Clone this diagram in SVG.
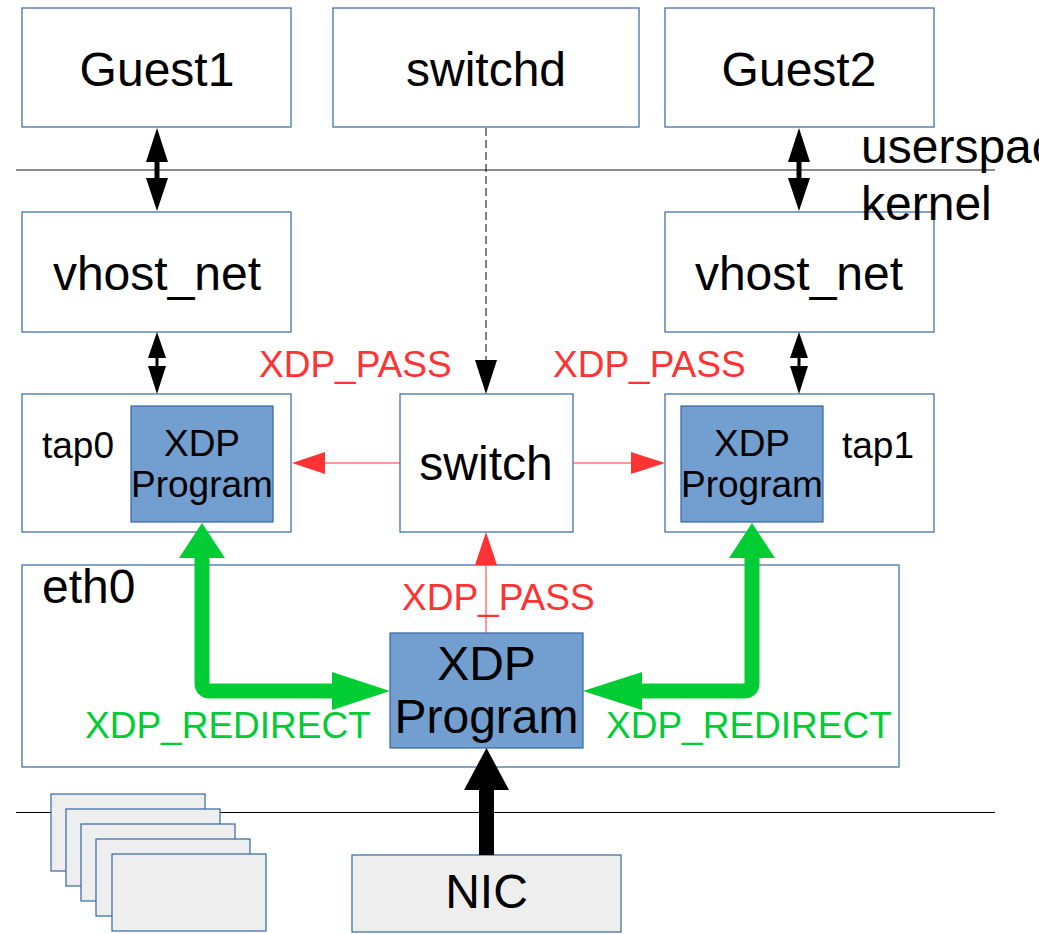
<svg xmlns="http://www.w3.org/2000/svg" width="1039" height="934" viewBox="0 0 1039 934">
<style>
.box{fill:#ffffff;stroke:#3465a4;stroke-width:1.2}
.prog{fill:#729fcf;stroke:#3465a4;stroke-width:1.2}
.card{fill:#eeeeee;stroke:#3465a4;stroke-width:1.2}
.t{font-family:"Liberation Sans",Arial,sans-serif;fill:#000}
.big{font-size:48px}
.mid{font-size:37px}
.red{font-family:"Liberation Sans",Arial,sans-serif;font-size:37px;fill:#ff3333}
.grn{font-family:"Liberation Sans",Arial,sans-serif;font-size:37px;fill:#00cc33}
</style>
<rect width="1039" height="934" fill="#ffffff"/>
<g id="layers">
<line x1="16" y1="170" x2="995" y2="170" stroke="#666666" stroke-width="1.5"/>
<line x1="16" y1="812.5" x2="995" y2="812.5" stroke="#000000" stroke-width="1"/>
</g>
<g id="guest1"><rect class="box" x="22" y="8" width="269" height="119"/><text class="t big" x="157" y="86" text-anchor="middle">Guest1</text></g>
<g id="switchd"><rect class="box" x="333" y="8" width="306" height="119"/><text class="t big" x="486" y="86" text-anchor="middle">switchd</text></g>
<g id="guest2"><rect class="box" x="665" y="8" width="269" height="119"/><text class="t big" x="799" y="86" text-anchor="middle">Guest2</text></g>
<g id="vhost_net1"><rect class="box" x="22" y="212" width="269" height="120"/><text class="t big" x="157" y="290" text-anchor="middle">vhost_net</text></g>
<g id="vhost_net2"><rect class="box" x="665" y="212" width="269" height="120"/><text class="t big" x="799" y="290" text-anchor="middle">vhost_net</text></g>
<g id="layer_labels">
<text class="t big" x="861" y="163">userspace</text>
<text class="t big" x="861" y="220">kernel</text>
</g>
<g id="tap0"><rect class="box" x="22" y="394" width="269" height="138"/><text class="t mid" x="42" y="458">tap0</text>
<rect class="prog" x="131" y="406" width="142" height="116"/><text class="t mid" x="202" y="456" text-anchor="middle">XDP</text><text class="t mid" x="202" y="497" text-anchor="middle">Program</text></g>
<g id="switch"><rect class="box" x="400" y="394" width="173" height="138"/><text class="t big" x="486" y="480" text-anchor="middle">switch</text></g>
<g id="tap1"><rect class="box" x="665" y="394" width="269" height="138"/><text class="t mid" x="842" y="458">tap1</text>
<rect class="prog" x="681" y="406" width="142" height="116"/><text class="t mid" x="752" y="456" text-anchor="middle">XDP</text><text class="t mid" x="752" y="497" text-anchor="middle">Program</text></g>
<g id="eth0"><rect class="box" x="22" y="565" width="877" height="202"/><text class="t big" x="42" y="603">eth0</text></g>
<g id="eth0_xdp"><rect class="prog" x="390" y="633" width="193" height="115"/><text class="t big" x="486.5" y="680" text-anchor="middle">XDP</text><text class="t big" x="486.5" y="733" text-anchor="middle">Program</text></g>
<g id="queues">
<rect class="card" x="51" y="794" width="154" height="77"/>
<rect class="card" x="66" y="809" width="154" height="77"/>
<rect class="card" x="81" y="824" width="154" height="77"/>
<rect class="card" x="96" y="839" width="154" height="77"/>
<rect class="card" x="112" y="854" width="154" height="77"/>
</g>
<g id="nic"><rect class="card" x="352" y="855" width="269" height="77"/><text class="t big" x="486.5" y="908" text-anchor="middle">NIC</text></g>
<g id="connectors">
<line x1="157" y1="158" x2="157" y2="182" stroke="#000" stroke-width="5"/>
<polygon points="157,128 168,162 146,162" fill="#000"/>
<polygon points="157,211 168,178 146,178" fill="#000"/>
<line x1="799" y1="158" x2="799" y2="182" stroke="#000" stroke-width="5"/>
<polygon points="799,128 810,162 788,162" fill="#000"/>
<polygon points="799,211 810,178 788,178" fill="#000"/>
<line x1="157" y1="355" x2="157" y2="369" stroke="#000" stroke-width="3"/>
<polygon points="157,332 166,358 148,358" fill="#000"/>
<polygon points="157,394 166,366 148,366" fill="#000"/>
<line x1="799" y1="355" x2="799" y2="369" stroke="#000" stroke-width="3"/>
<polygon points="799,332 808,358 790,358" fill="#000"/>
<polygon points="799,394 808,366 790,366" fill="#000"/>
<line x1="486" y1="128" x2="486" y2="362" stroke="#000" stroke-width="1" stroke-dasharray="8,4"/>
<polygon points="486,394 497,360 475,360" fill="#000"/>
<line x1="400" y1="463" x2="320" y2="463" stroke="#ff3333" stroke-width="1"/>
<polygon points="292,463 325,452 325,474" fill="#ff3333"/>
<line x1="573" y1="463" x2="636" y2="463" stroke="#ff3333" stroke-width="1"/>
<polygon points="665,463 631,452 631,474" fill="#ff3333"/>
<line x1="486" y1="633" x2="486" y2="560" stroke="#ff3333" stroke-width="1"/>
<polygon points="486,532 497,565 475,565" fill="#ff3333"/>
<path d="M202,552 V683 Q202,691 210,691 H338" fill="none" stroke="#00cc33" stroke-width="15"/>
<polygon points="202,523 225,558 179,558" fill="#00cc33"/>
<polygon points="390,691 332,672 332,710" fill="#00cc33"/>
<path d="M752,552 V683 Q752,691 744,691 H636" fill="none" stroke="#00cc33" stroke-width="15"/>
<polygon points="752,523 775,558 729,558" fill="#00cc33"/>
<polygon points="583,691 642,672 642,710" fill="#00cc33"/>
<line x1="486.5" y1="855" x2="486.5" y2="785" stroke="#000" stroke-width="15"/>
<polygon points="486.5,748 509,790 464,790" fill="#000"/>
</g>
<g id="labels">
<text class="red" x="259" y="377">XDP_PASS</text>
<text class="red" x="553" y="377">XDP_PASS</text>
<text class="red" x="402" y="610">XDP_PASS</text>
<text class="grn" x="85" y="738">XDP_REDIRECT</text>
<text class="grn" x="606" y="738">XDP_REDIRECT</text>
</g>
</svg>
